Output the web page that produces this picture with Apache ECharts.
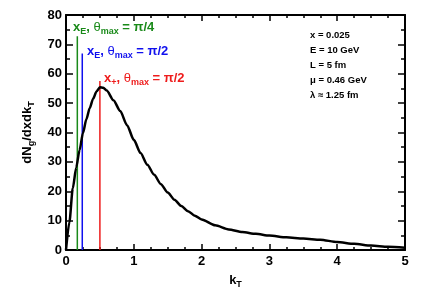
<!DOCTYPE html>
<html><head><meta charset="utf-8">
<script src="https://cdn.jsdelivr.net/npm/echarts@6/dist/echarts.min.js"></script>
<style>html,body{margin:0;padding:0;background:#fff}#c{width:442px;height:297px}</style>
</head><body><div id="c"></div>
<script>
const kT = [0,0.05,0.1,0.15,0.2,0.25,0.3,0.35,0.4,0.45,0.5,0.55,0.6,0.7,0.8,0.9,1.0,1.1,1.2,1.3,1.4,1.5,1.6,1.7,1.8,1.9,2.0,2.2,2.4,2.6,2.8,3.0,3.25,3.5,3.75,4.0,4.25,4.5,4.75,5.0];
const dNg = [0,9.5,21,28,34,39.8,44.5,48.3,51.5,54,55.4,55.2,54.3,51,47.3,42.5,37.5,33,29,25.6,22.4,19.6,17.1,15.0,13.2,11.7,10.4,8.4,7,6.1,5.5,4.9,4.3,3.9,3.5,2.7,2.1,1.5,1.1,0.8];
const lineGreen = {k:0.167, top:72.8};
const lineBlue = {k:0.24, top:66.9};
const lineRed = {k:0.5, top:57.5};
const params = ['x = 0.025','E = 10 GeV','L = 5 fm','μ = 0.46 GeV','λ ≈ 1.25 fm'];

const FF = 'Liberation Sans, Arial, sans-serif';
const chart = echarts.init(document.getElementById('c'));
const tickStyle = {color:'#000', width:1.5};
function xAx(pos, labels){
  return {type:'value', min:0, max:5, interval:1, position:pos,
    axisLine:{show:true, onZero:false, lineStyle:{color:'#000', width:2}},
    axisTick:{show:true, inside:true, length:6, lineStyle:tickStyle},
    minorTick:{show:true, splitNumber:4, length:3, lineStyle:tickStyle},
    splitLine:{show:false},
    axisLabel:{show:labels, color:'#000', fontFamily:FF, fontWeight:'bold', fontSize:13, margin:5},
    name: labels ? '{b|k}{s|T}' : '', nameLocation:'middle', nameGap:22,
    nameTextStyle:{rich:{b:{fontFamily:FF,fontWeight:'bold',fontSize:13,color:'#000'},
                         s:{fontFamily:FF,fontWeight:'bold',fontSize:9,color:'#000',padding:[8,0,0,0]}}}
  };
}
function yAx(pos, labels){
  return {type:'value', min:0, max:80, interval:10, position:pos,
    axisLine:{show:true, onZero:false, lineStyle:{color:'#000', width:2}},
    axisTick:{show:true, inside:true, length:7, lineStyle:tickStyle},
    minorTick:{show:true, splitNumber:2, length:4, lineStyle:tickStyle},
    splitLine:{show:false},
    axisLabel:{show:labels, color:'#000', fontFamily:FF, fontWeight:'bold', fontSize:13, margin:4},
    name: labels ? '{b|dN}{s|g}{b|/dxdk}{s|T}' : '', nameLocation:'middle', nameGap:30, nameRotate:90,
    nameTextStyle:{rich:{b:{fontFamily:FF,fontWeight:'bold',fontSize:13,color:'#000'},
                         s:{fontFamily:FF,fontWeight:'bold',fontSize:9,color:'#000',padding:[8,0,0,0]}}}
  };
}
function vline(o, color){
  return {type:'line', data:[[o.k,0],[o.k,o.top]], symbol:'none', lineStyle:{color:color, width:1.5}, z:1, silent:true};
}
const richLab = (c)=>({
  b:{fontFamily:FF,fontWeight:'bold',fontSize:13,fill:c},
  g:{fontFamily:FF,fontSize:13,fill:c},
  s:{fontFamily:FF,fontWeight:'bold',fontSize:9,fill:c,padding:[8,0,0,0]}
});
chart.setOption({
  animation:false,
  grid:{left:66, right:37, top:15, bottom:47},
  xAxis:[xAx('bottom', true), xAx('top', false)],
  yAxis:[yAx('left', true), yAx('right', false)],
  series:[
    vline(lineGreen,'#1a8a1a'),
    vline(lineBlue,'#1010ee'),
    vline(lineRed,'#ee1c1c'),
    {type:'line', data:kT.map((k,i)=>[k,dNg[i]]), symbol:'none', smooth:0.25, smoothMonotone:'x',
     lineStyle:{color:'#000', width:2.5}, z:3}
  ],
  graphic:[
    {type:'text', left:73, top:21, style:{text:'{b|x}{s|E}{b|, }{g|θ}{s|max}{b| = π/4}', fill:'#1a8a1a', rich:richLab('#1a8a1a')}},
    {type:'text', left:87, top:45, style:{text:'{b|x}{s|E}{b|, }{g|θ}{s|max}{b| = π/2}', fill:'#1010ee', rich:richLab('#1010ee')}},
    {type:'text', left:104, top:72, style:{text:'{b|x}{s|+}{b|, }{g|θ}{s|max}{b| = π/2}', fill:'#ee1c1c', rich:richLab('#ee1c1c')}},
    ...params.map((t,i)=>({type:'text', left:310, top:30+i*15,
      style:{text:t, font:'bold 9.5px '+FF, fill:'#000'}}))
  ]
});
</script></body></html>
